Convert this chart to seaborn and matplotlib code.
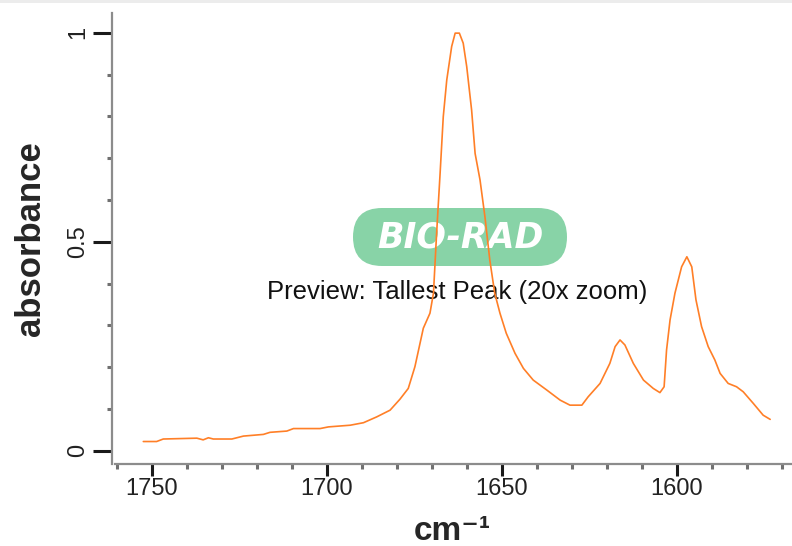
import numpy as np
import pandas as pd
import matplotlib
matplotlib.use("Agg")
import matplotlib.pyplot as plt
import matplotlib.patches as mpatches
from matplotlib.ticker import MultipleLocator, FixedLocator
import seaborn as sns

# ── data ────────────────────────────────────────
wavenumber = [1752.4, 1748.6, 1746.7, 1737.1, 1735.3, 1733.8, 1732.4, 1727.1,
              1723.8, 1718.1, 1716.2, 1711.4, 1709.5, 1701.9, 1699.5, 1693.3,
              1689.5, 1685.7, 1681.9, 1679.1, 1676.7, 1674.8, 1672.4, 1670.5,
              1669.5, 1668.6, 1667.6, 1666.7, 1665.7, 1664.3, 1663.3, 1662.1,
              1661.0, 1660.0, 1658.6, 1657.6, 1656.2, 1654.8, 1653.4, 1652.0,
              1650.5, 1648.7, 1646.2, 1643.8, 1641.0, 1637.1, 1633.3, 1630.5,
              1627.1, 1625.3, 1621.9, 1619.1, 1617.6, 1616.2, 1614.8, 1612.4,
              1609.5, 1606.7, 1604.8, 1603.6, 1602.9, 1601.9, 1600.5, 1598.6,
              1597.1, 1595.7, 1594.5, 1592.9, 1591.0, 1589.1, 1587.6, 1585.3,
              1582.9, 1581.0, 1578.1, 1575.3, 1573.3]
absorbance = [0.022, 0.022, 0.028, 0.030, 0.026, 0.031, 0.028, 0.028,
              0.035, 0.039, 0.044, 0.047, 0.053, 0.053, 0.057, 0.061,
              0.067, 0.081, 0.097, 0.123, 0.149, 0.201, 0.293, 0.329,
              0.377, 0.520, 0.664, 0.799, 0.887, 0.967, 0.999, 0.999,
              0.975, 0.919, 0.815, 0.711, 0.648, 0.560, 0.456, 0.377,
              0.329, 0.281, 0.233, 0.197, 0.169, 0.145, 0.121, 0.109,
              0.109, 0.129, 0.161, 0.209, 0.249, 0.265, 0.253, 0.209,
              0.169, 0.149, 0.139, 0.153, 0.241, 0.313, 0.377, 0.440,
              0.464, 0.440, 0.361, 0.297, 0.249, 0.217, 0.185, 0.161,
              0.153, 0.141, 0.113, 0.085, 0.075]

y_ticks = [0, 0.5, 1]
y_tick_labels = ["0", "0.5", "1"]
x_ticks = [1750, 1700, 1650, 1600]

df = pd.DataFrame({"wavenumber": wavenumber, "absorbance": absorbance})

# ── style ───────────────────────────────────────
sns.set_style("white", {"xtick.bottom": True, "ytick.left": True})
plt.rcParams["font.family"] = ["Liberation Sans", "DejaVu Sans"]

fig = plt.figure(figsize=(7.92, 5.46), dpi=100)
ax = fig.add_axes([0.1418, 0.1507, 0.8582, 0.8249])

# logo and caption sit under the trace
logo = mpatches.FancyBboxPatch((3.53, 2.80), 2.14, 0.58,
                               boxstyle="round,pad=0,rounding_size=0.29",
                               transform=fig.dpi_scale_trans,
                               facecolor="#88d3a7", edgecolor="none", zorder=1)
ax.add_patch(logo)
ax.text(0.5116, 0.503, "BIO-RAD", transform=ax.transAxes, ha="center",
        va="center", color="white", fontsize=25, fontweight="bold",
        fontstyle="italic", family="DejaVu Sans", zorder=1.5)
ax.text(0.508, 0.3657, "Preview: Tallest Peak (20x zoom)",
        transform=ax.transAxes, ha="center", va="baseline",
        fontsize=18.5, color="#111111", zorder=1.5)

sns.lineplot(data=df, x="wavenumber", y="absorbance", ax=ax, sort=False,
             estimator=None, color="#ff7f27", linewidth=1.2, zorder=3)

ax.set_xlim(1761.26, 1567.06)
ax.set_ylim(-0.0311, 1.0464)

for side in ["top", "right"]:
    ax.spines[side].set_visible(False)
for side in ["left", "bottom"]:
    ax.spines[side].set_color("#8c8c8c")
    ax.spines[side].set_linewidth(1.6)
ax.spines["bottom"].set_bounds(1760.4, 1567.06)

ax.xaxis.set_major_locator(FixedLocator(x_ticks))
ax.xaxis.set_minor_locator(MultipleLocator(10))
ax.yaxis.set_major_locator(FixedLocator(y_ticks))
ax.set_yticklabels(y_tick_labels)
ax.yaxis.set_minor_locator(MultipleLocator(0.1))

ax.tick_params(axis="y", which="major", direction="out", length=14,
               width=2.2, color="#1a1a1a", labelsize=17, labelcolor="#222222",
               pad=2.5, labelrotation=90, left=True)
ax.tick_params(axis="x", which="major", direction="out", length=8.5,
               width=2.2, color="#1a1a1a", labelsize=17, labelcolor="#222222",
               pad=1.8, bottom=True)
ax.tick_params(axis="both", which="minor", direction="out", length=3.3,
               width=2.2, color="#707070", left=True, bottom=True)
for lab in ax.get_yticklabels():
    lab.set_va("center")

ax.set_xlabel("cm\u207b\u00b9", fontsize=24, fontweight="bold")
ax.set_ylabel("absorbance", fontsize=25, fontweight="bold")
ax.yaxis.set_label_coords(-0.096, 0.5)
ax.xaxis.set_label_coords(0.5, -0.117)

# light grey strip along the top edge
fig.add_artist(mpatches.Rectangle((0, 1 - 3 / 546), 1, 3 / 546,
                                  transform=fig.transFigure,
                                  facecolor="#ececec", edgecolor="none"))

fig.savefig("out.png", dpi=100)
